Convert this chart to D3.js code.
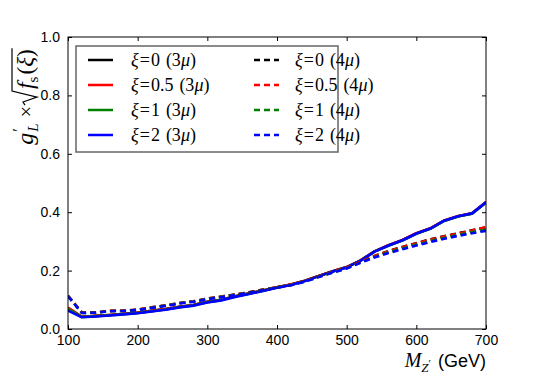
<!DOCTYPE html>
<html>
<head>
<meta charset="utf-8">
<script src="https://cdn.jsdelivr.net/npm/d3@7"></script>
<style>
  body { margin: 0; background: #fff; }
  svg { display: block; }
  .tick text { font-family: "Liberation Sans", Arial, sans-serif; font-size: 14px; fill: #000; }
</style>
</head>
<body>
<div id="chart"></div>
<script>
// Z' mass points (GeV)
const masses = [100,120,140,160,180,200,220,240,260,280,300,320,340,360,380,400,
                420,440,460,480,500,520,540,560,580,600,620,640,660,680,700];

// 3 mu channel
const xi0_3mu  = [0.072,0.042,0.045,0.048,0.052,0.056,0.062,0.068,0.076,0.082,0.093,0.100,0.112,0.122,0.132,0.143,
                  0.152,0.165,0.182,0.198,0.212,0.235,0.266,0.287,0.304,0.327,0.344,0.371,0.386,0.396,0.434];
const xi05_3mu = [0.073,0.042,0.045,0.048,0.052,0.056,0.062,0.068,0.076,0.082,0.093,0.100,0.112,0.122,0.132,0.143,
                  0.152,0.165,0.182,0.198,0.212,0.235,0.266,0.287,0.305,0.328,0.345,0.372,0.387,0.396,0.435];
const xi1_3mu  = [0.069,0.041,0.044,0.047,0.051,0.055,0.061,0.067,0.075,0.081,0.092,0.099,0.111,0.121,0.131,0.142,
                  0.151,0.164,0.181,0.197,0.211,0.234,0.265,0.285,0.303,0.326,0.343,0.370,0.385,0.395,0.433];
const xi2_3mu  = [0.063,0.040,0.043,0.046,0.050,0.054,0.060,0.066,0.074,0.080,0.091,0.098,0.110,0.120,0.130,0.141,
                  0.151,0.164,0.181,0.197,0.211,0.234,0.265,0.286,0.304,0.327,0.344,0.371,0.386,0.396,0.434];

// 4 mu channel
const xi0_4mu  = [0.114,0.056,0.057,0.062,0.063,0.066,0.074,0.081,0.089,0.095,0.104,0.111,0.118,0.126,0.135,0.143,
                  0.152,0.164,0.180,0.195,0.210,0.230,0.250,0.267,0.281,0.294,0.307,0.318,0.328,0.338,0.348];
const xi05_4mu = [0.114,0.056,0.057,0.062,0.063,0.066,0.074,0.081,0.089,0.095,0.104,0.111,0.118,0.126,0.135,0.143,
                  0.152,0.164,0.180,0.195,0.210,0.230,0.250,0.266,0.280,0.293,0.306,0.317,0.327,0.337,0.349];
const xi1_4mu  = [0.113,0.055,0.056,0.061,0.062,0.065,0.073,0.080,0.088,0.094,0.103,0.110,0.117,0.125,0.134,0.142,
                  0.151,0.163,0.179,0.194,0.208,0.228,0.247,0.263,0.276,0.289,0.301,0.312,0.322,0.332,0.340];
const xi2_4mu  = [0.112,0.055,0.056,0.061,0.062,0.065,0.072,0.079,0.087,0.093,0.102,0.109,0.116,0.124,0.133,0.141,
                  0.150,0.162,0.178,0.193,0.207,0.227,0.245,0.260,0.273,0.286,0.298,0.309,0.319,0.328,0.336];

const xTicks = [100,200,300,400,500,600,700];
const yTicks = [0.0,0.2,0.4,0.6,0.8,1.0];

const series = [
  { vals: xi0_3mu,  colour: "#000000", dash: null, xi: "0",   ch: "3" },
  { vals: xi05_3mu, colour: "#ff0000", dash: null, xi: "0.5", ch: "3" },
  { vals: xi1_3mu,  colour: "#008000", dash: null, xi: "1",   ch: "3" },
  { vals: xi2_3mu,  colour: "#0000ff", dash: null, xi: "2",   ch: "3" },
  { vals: xi0_4mu,  colour: "#000000", dash: "6,4", xi: "0",   ch: "4" },
  { vals: xi05_4mu, colour: "#ff0000", dash: "6,4", xi: "0.5", ch: "4" },
  { vals: xi1_4mu,  colour: "#008000", dash: "6,4", xi: "1",   ch: "4" },
  { vals: xi2_4mu,  colour: "#0000ff", dash: "6,4", xi: "2",   ch: "4" }
];

const W = 540, H = 378;
const margin = { top: 37, right: 54, bottom: 49, left: 68 };

const svg = d3.select("#chart").append("svg")
  .attr("width", W).attr("height", H);

const x = d3.scaleLinear().domain([100, 700]).range([margin.left, W - margin.right]);
const y = d3.scaleLinear().domain([0, 1]).range([H - margin.bottom, margin.top]);

// clip
svg.append("clipPath").attr("id", "clip").append("rect")
  .attr("x", margin.left).attr("y", margin.top)
  .attr("width", x(700) - x(100)).attr("height", y(0) - y(1));

const line = d3.line().x((d, i) => x(masses[i])).y(d => y(d));

const plot = svg.append("g").attr("clip-path", "url(#clip)");
series.forEach(s => {
  plot.append("path")
    .attr("d", line(s.vals))
    .attr("fill", "none")
    .attr("stroke", s.colour)
    .attr("stroke-width", 2.6)
    .attr("stroke-dasharray", s.dash)
    .attr("stroke-linejoin", "round");
});

// axes, ticks pointing inward on all sides
const gx = svg.append("g").attr("transform", `translate(0,${y(0)})`)
  .call(d3.axisBottom(x).tickValues(xTicks).tickSizeInner(-4).tickSizeOuter(0).tickPadding(6));
const gxt = svg.append("g").attr("transform", `translate(0,${y(1)})`)
  .call(d3.axisTop(x).tickValues(xTicks).tickSizeInner(-4).tickSizeOuter(0).tickFormat(""));
const gy = svg.append("g").attr("transform", `translate(${x(100)},0)`)
  .call(d3.axisLeft(y).tickValues(yTicks).tickSizeInner(-4).tickSizeOuter(0).tickPadding(8).tickFormat(d3.format(".1f")));
const gyr = svg.append("g").attr("transform", `translate(${x(700)},0)`)
  .call(d3.axisRight(y).tickValues(yTicks).tickSizeInner(-4).tickSizeOuter(0).tickFormat(""));
[gx, gxt, gy, gyr].forEach(g => {
  g.select(".domain").remove();
  g.selectAll(".tick line").attr("stroke", "#000");
});

svg.append("rect")
  .attr("x", x(100)).attr("y", y(1))
  .attr("width", x(700) - x(100)).attr("height", y(0) - y(1))
  .attr("fill", "none").attr("stroke", "#000").attr("stroke-width", 1);

// lay out pieces of math-like text one after another
function mathText(parent, parts, x0, y0, anchor) {
  const g = parent.append("g");
  let cx = 0, prevStart = 0;
  const spans = [];
  parts.forEach(p => {
    const start = (p.back ? prevStart : cx) + (p.pad || 0);
    let w = p.gap || 0;
    if (p.t) {
      const t = g.append("text")
        .attr("x", start)
        .attr("y", p.dy || 0)
        .style("font-family", p.sans ? "'Liberation Sans', Arial, sans-serif" : "'Liberation Serif', 'Times New Roman', serif")
        .style("font-style", p.it ? "italic" : "normal")
        .style("font-size", (p.sz || 17) + "px")
        .attr("fill", "#000")
        .text(p.t);
      w = t.node().getComputedTextLength();
    }
    spans.push({ start: start, w: w, part: p });
    prevStart = p.back ? prevStart : start - (p.pad || 0);
    cx = Math.max(cx, start + w + (p.after || 0));
  });
  let shift = 0;
  if (anchor === "middle") shift = -cx / 2;
  if (anchor === "end") shift = -cx;
  g.attr("transform", `translate(${x0 + shift},${y0})`);
  return { g: g, spans: spans, width: cx };
}

// legend
const legend = svg.append("g");
legend.append("rect")
  .attr("x", 76).attr("y", 46).attr("width", 262).attr("height", 106)
  .attr("fill", "#fff").attr("stroke", "#666").attr("stroke-width", 1.5);

series.forEach((s, i) => {
  const col = Math.floor(i / 4), row = i % 4;
  const cy = 60 + row * 25;
  const lx = col === 0 ? 88 : 254;
  const tx = col === 0 ? 131 : 295;
  legend.append("line")
    .attr("x1", lx).attr("x2", lx + 25).attr("y1", cy).attr("y2", cy)
    .attr("stroke", s.colour).attr("stroke-width", 2.5)
    .attr("stroke-dasharray", s.dash);
  mathText(legend, [
    { t: "ξ", it: true, after: 1, sz: 18 },
    { t: "=", after: 1, sz: 18 },
    { t: s.xi, after: 6, sz: 18 },
    { t: "(" + s.ch, sz: 18 },
    { t: "μ", it: true, sz: 18 },
    { t: ")", sz: 18 }
  ], tx, cy + 6, "start");
});

// y-axis label (drawn horizontally, then rotated)
const yl = mathText(svg, [
  { t: "g", it: true, sz: 24 },
  { t: "′", sz: 16, dy: -9, pad: 1 },
  { t: "L", it: true, sz: 15, dy: 5, back: true, pad: 1, after: 6 },
  { t: "×", sz: 20, after: 1 },
  { gap: 14 },
  { t: "f", it: true, sz: 24, pad: 2 },
  { t: "s", sz: 15, dy: 5 },
  { t: "(", sz: 23, pad: 2 },
  { t: "ξ", it: true, sz: 23 },
  { t: ")", sz: 23 }
], 0, 0, "middle");
const r0 = yl.spans[4].start;
yl.g.append("path")
  .attr("d", `M${r0},-8 L${r0 + 3},-10 L${r0 + 8},4 L${r0 + 14},-21 L${yl.width + 1},-21`)
  .attr("fill", "none").attr("stroke", "#000").attr("stroke-width", 1.2)
  .attr("stroke-linejoin", "miter");
yl.g.attr("transform", `translate(33,${97}) rotate(-90) translate(${-yl.width / 2},0)`);

// x-axis label
mathText(svg, [
  { t: "M", it: true, sz: 20 },
  { t: "Z", it: true, sz: 13, dy: 5 },
  { t: "′", sz: 11, dy: 0, after: 7 },
  { t: "(GeV)", sans: true, sz: 18 }
], 486, 367, "end");
</script>
</body>
</html>
